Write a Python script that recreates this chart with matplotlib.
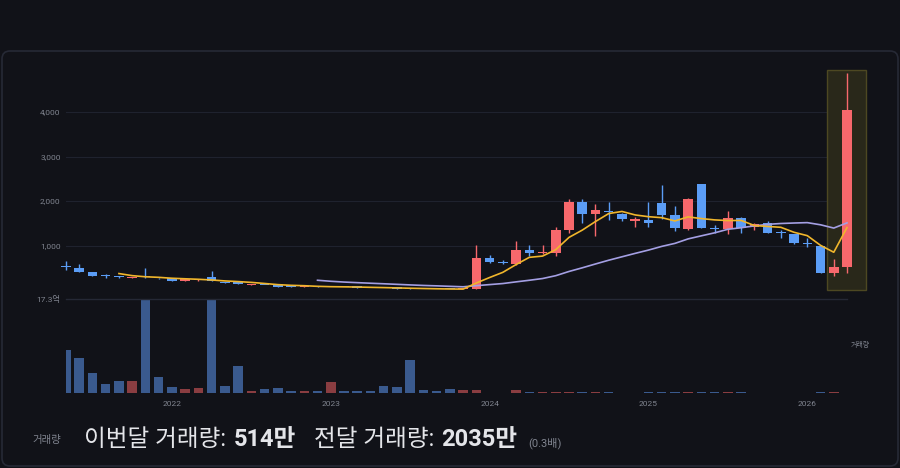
import matplotlib
matplotlib.use('Agg')
import matplotlib.pyplot as plt
from matplotlib.patches import FancyBboxPatch, Rectangle
import numpy as np
import pandas as pd

# monthly candles, May 2021 .. Apr 2026
months = pd.period_range('2021-05', '2026-04', freq='M')

opens = [545, 514, 424, 322, 307, 282, 310, 280, 276, 226,
         228, 300, 186, 184, 128, 130, 110, 100, 86, 90,
         76, 80, 72, 66, 60, 54, 46, 38, 35, 33,
         30, 32, 725, 650, 590, 905, 837, 837, 1360, 1985,
         1712, 1786, 1712, 1572, 1584, 1975, 1697, 1375, 2392, 1385,
         1375, 1622, 1434, 1510, 1290, 1270, 1042, 1000, 402, 537]
highs = [664, 590, 428, 366, 330, 305, 500, 285, 280, 248,
         250, 433, 190, 188, 158, 134, 115, 104, 100, 94,
         86, 82, 75, 69, 62, 56, 48, 40, 37, 35,
         34, 1030, 799, 680, 1110, 1025, 1025, 1420, 2060, 2060,
         1945, 1995, 1750, 1660, 1981, 2370, 1905, 2070, 2395, 1472,
         1793, 1650, 1510, 1560, 1360, 1275, 1173, 1005, 702, 4890]
lows = [466, 420, 330, 276, 285, 278, 290, 268, 210, 222,
        225, 218, 168, 140, 125, 118, 88, 85, 84, 80,
        74, 72, 66, 60, 52, 44, 36, 33, 31, 29,
        28, 28, 612, 600, 575, 776, 830, 783, 1285, 1510,
        1225, 1584, 1560, 1434, 1434, 1600, 1345, 1365, 1400, 1285,
        1270, 1290, 1370, 1290, 1173, 1050, 971, 398, 328, 388]
closes = [535, 424, 334, 318, 303, 300, 298, 272, 215, 242,
          244, 222, 165, 140, 152, 122, 92, 88, 96, 84,
          82, 74, 68, 62, 54, 46, 38, 35, 33, 31,
          32, 725, 648, 615, 905, 840, 866, 1370, 1990, 1720,
          1805, 1760, 1606, 1598, 1524, 1697, 1395, 2058, 1405, 1378,
          1622, 1412, 1487, 1300, 1282, 1061, 1036, 402, 523, 4050]
# volume in 억
volumes = [7.9, 6.4, 3.7, 1.73, 2.15, 2.15, 28.5, 3.0, 1.05, 0.74,
           0.87, 22.1, 1.3, 4.9, 0.4, 0.8, 0.9, 0.37, 0.37, 0.37,
           2.0, 0.37, 0.37, 0.37, 1.3, 1.05, 6.1, 0.5, 0.37, 0.68,
           0.5, 0.5, 0.03, 0.02, 0.55, 0.18, 0.1, 0.18, 0.25, 0.15,
           0.1, 0.1, 0.06, 0.06, 0.12, 0.24, 0.15, 0.15, 0.12, 0.1,
           0.15, 0.1, 0.05, 0.08, 0.06, 0.08, 0.06, 0.26, 0.2035, 0.0514]

price_ticks = [1000, 2000, 3000, 4000]
vol_max = 17.3
this_month_vol = '514만'
prev_month_vol = '2035만'
vol_ratio = '(0.3배)'

BG = '#111218'
UP, DOWN = '#f7686c', '#5b9df6'
VUP, VDOWN = '#8a3d41', '#3a5a8e'
GRID = '#1f222e'
LABEL = '#80848f'
TEXT = '#e4e5e9'
KR = ['Roboto', 'Noto Sans CJK KR']

df = pd.DataFrame({'open': opens, 'high': highs, 'low': lows,
                   'close': closes, 'vol': volumes}, index=months)
df['ma5'] = df['close'].rolling(5).mean()
df['ma20'] = df['close'].rolling(20).mean()
x = np.arange(len(df))
up = df['close'] >= df['open']

W, H = 900, 468


def frac(x0, y0, x1, y1):
    return [x0 / W, 1 - y1 / H, (x1 - x0) / W, (y1 - y0) / H]


fig = plt.figure(figsize=(W / 100, H / 100), dpi=100, facecolor=BG)

# card background
bg = fig.add_axes([0, 0, 1, 1])
bg.set_xlim(0, W)
bg.set_ylim(H, 0)
bg.axis('off')
bg.add_patch(FancyBboxPatch((2, 51), 896, 415, boxstyle='round,pad=0,rounding_size=8',
                            facecolor=BG, edgecolor='#262935', lw=1.2))

# price pane
ax = fig.add_axes(frac(66, 60, 847, 299))
ax.set_facecolor('none')
ax.set_xlim(0, 59)
ax.set_ylim(-188, 5174)
for s in ax.spines.values():
    s.set_visible(False)
ax.set_xticks([])
ax.set_yticks([])
for t in price_ticks:
    ax.axhline(t, color=GRID, lw=0.8, zorder=0)
    ax.text(-0.4, t, f'{t:,}', ha='right', va='center', color=LABEL,
            fontsize=6, family=KR)

ax.add_patch(Rectangle((57.48, 13), 2.94, 4934, facecolor='#29281a',
                       edgecolor='#4d4822', lw=1, zorder=1, clip_on=False))

colors = np.where(up, UP, DOWN)
body_h = np.maximum((df['close'] - df['open']).abs(), 28)
body_b = np.minimum(df['open'], df['close'])
ax.vlines(x, df['low'], df['high'], colors=colors, lw=1, zorder=2, clip_on=False)
ax.bar(x, body_h, bottom=body_b, width=0.72, color=colors, zorder=3, clip_on=False)
ax.plot(x, df['ma20'], color='#a49fe3', lw=1.2, zorder=4, clip_on=False)
ax.plot(x, df['ma5'], color='#f0b62c', lw=1.2, zorder=5, clip_on=False)

# volume pane
vax = fig.add_axes(frac(66, 299, 847, 393))
vax.set_facecolor('none')
vax.set_xlim(0, 59)
vax.set_ylim(0, vol_max)
for s in vax.spines.values():
    s.set_visible(False)
vax.set_xticks([])
vax.set_yticks([])
vax.axhline(vol_max, color='#252835', lw=1, clip_on=False)
vax.text(-0.4, vol_max, f'{vol_max}억', ha='right', va='center', color=LABEL,
         fontsize=6, family=KR)
vax.bar(x, df['vol'], width=0.72, color=np.where(up, VUP, VDOWN))
vax.text(1.005, 0.5, '거래량', transform=vax.transAxes, ha='left', va='center',
         color=LABEL, fontsize=5, family=KR)

jan = np.where(df.index.month == 1)[0]
for i in jan:
    vax.text(i, -0.12, str(df.index[i].year), transform=vax.get_xaxis_transform(),
             ha='center', va='center', color=LABEL, fontsize=6, family=KR)

# summary line
bg.text(32, 440, '거래량', ha='left', va='center', color=LABEL, fontsize=7.5, family=KR)
bg.text(84, 439, '이번달 거래량:', ha='left', va='center', color=TEXT,
        fontsize=17, family=KR)
bg.text(234, 439, this_month_vol, ha='left', va='center', color=TEXT,
        fontsize=17, fontweight='bold', family=KR)
bg.text(314, 439, '전달 거래량:', ha='left', va='center', color=TEXT,
        fontsize=17, family=KR)
bg.text(441, 439, prev_month_vol, ha='left', va='center', color=TEXT,
        fontsize=17, fontweight='bold', family=KR)
bg.text(528, 443, vol_ratio, ha='left', va='center', color=LABEL, fontsize=8, family=KR)

fig.savefig('out.png', dpi=100, facecolor=BG)
